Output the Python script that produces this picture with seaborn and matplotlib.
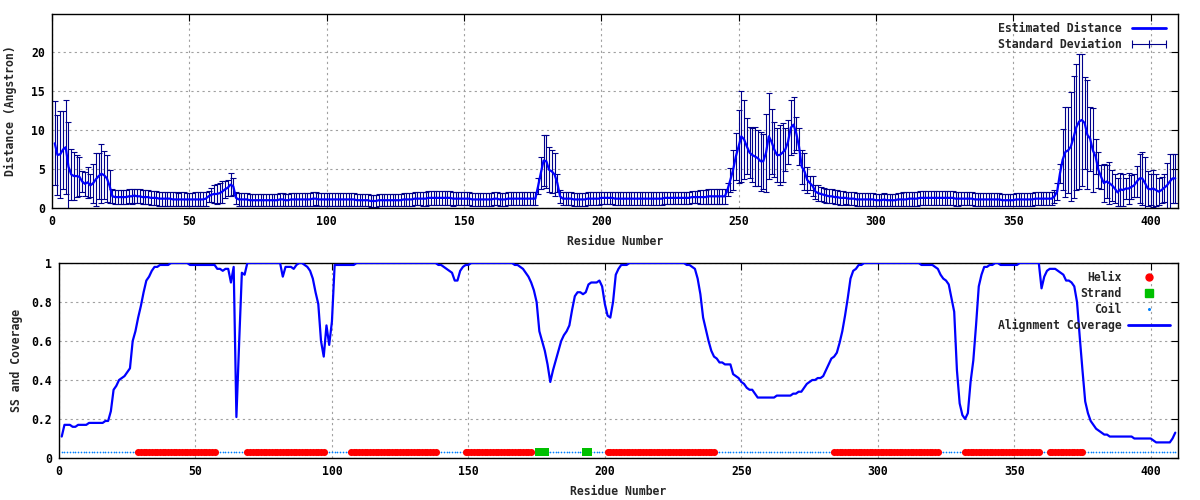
import numpy as np
import pandas as pd
import seaborn as sns
import matplotlib.pyplot as plt
from matplotlib.lines import Line2D

# residue index 1..409
residue = np.arange(1, 410)

# estimated distance (Angstrom), one value per residue
distance = [
    8.3, 6.8, 6.9, 7.5, 7.8, 5.3, 4.3, 4.1, 4.1, 4.0,
    3.4, 3.1, 3.3, 2.9, 3.2, 3.7, 4.1, 4.4, 4.2, 3.8,
    2.8, 1.5, 1.4, 1.4, 1.4, 1.4, 1.4, 1.5, 1.5, 1.6,
    1.5, 1.5, 1.4, 1.4, 1.4, 1.3, 1.3, 1.3, 1.2, 1.2,
    1.2, 1.2, 1.2, 1.1, 1.1, 1.1, 1.1, 1.1, 1.1, 1.1,
    1.1, 1.1, 1.1, 1.1, 1.1, 1.2, 1.5, 1.7, 1.8, 1.8,
    1.9, 2.1, 2.4, 2.6, 3.0, 2.8, 1.3, 1.1, 1.1, 1.1,
    1.1, 1.0, 1.0, 1.0, 1.0, 1.0, 1.0, 1.0, 1.0, 1.0,
    1.0, 1.0, 1.1, 1.1, 1.0, 1.0, 1.1, 1.1, 1.1, 1.1,
    1.1, 1.1, 1.1, 1.1, 1.2, 1.2, 1.1, 1.1, 1.1, 1.1,
    1.1, 1.1, 1.1, 1.1, 1.1, 1.1, 1.1, 1.1, 1.1, 1.1,
    1.0, 1.0, 1.0, 1.0, 1.0, 0.9, 0.9, 0.9, 1.0, 1.0,
    1.0, 1.0, 1.0, 1.0, 1.0, 1.0, 1.0, 1.1, 1.1, 1.1,
    1.1, 1.2, 1.2, 1.2, 1.2, 1.2, 1.3, 1.3, 1.3, 1.3,
    1.3, 1.3, 1.3, 1.3, 1.3, 1.2, 1.2, 1.2, 1.2, 1.2,
    1.2, 1.2, 1.1, 1.1, 1.1, 1.1, 1.1, 1.1, 1.1, 1.1,
    1.2, 1.2, 1.1, 1.1, 1.1, 1.2, 1.2, 1.2, 1.2, 1.2,
    1.2, 1.2, 1.2, 1.2, 1.2, 1.2, 2.8, 4.5, 6.1, 6.0,
    4.9, 4.7, 4.3, 3.2, 1.5, 1.2, 1.2, 1.2, 1.2, 1.1,
    1.1, 1.1, 1.1, 1.1, 1.2, 1.2, 1.2, 1.2, 1.2, 1.3,
    1.3, 1.3, 1.3, 1.3, 1.2, 1.2, 1.2, 1.2, 1.2, 1.2,
    1.2, 1.2, 1.2, 1.2, 1.2, 1.2, 1.2, 1.2, 1.2, 1.2,
    1.2, 1.2, 1.3, 1.3, 1.3, 1.3, 1.3, 1.3, 1.3, 1.3,
    1.3, 1.3, 1.4, 1.4, 1.4, 1.4, 1.4, 1.4, 1.5, 1.5,
    1.5, 1.5, 1.5, 1.5, 1.5, 2.4, 3.6, 4.9, 6.6, 7.9,
    9.2, 8.8, 7.9, 7.1, 6.8, 6.6, 6.4, 6.0, 6.0, 7.1,
    9.2, 8.5, 7.5, 6.8, 6.8, 7.1, 7.5, 8.5, 10.3, 10.7,
    9.6, 7.9, 5.3, 4.7, 3.6, 3.2, 2.8, 2.1, 1.9, 1.8,
    1.7, 1.6, 1.5, 1.5, 1.4, 1.4, 1.3, 1.3, 1.3, 1.2,
    1.2, 1.2, 1.1, 1.1, 1.1, 1.1, 1.1, 1.1, 1.1, 1.0,
    1.0, 1.0, 1.1, 1.0, 1.0, 1.0, 1.0, 1.1, 1.1, 1.1,
    1.1, 1.2, 1.2, 1.2, 1.2, 1.3, 1.3, 1.3, 1.3, 1.3,
    1.3, 1.3, 1.3, 1.3, 1.3, 1.3, 1.3, 1.3, 1.2, 1.2,
    1.2, 1.2, 1.2, 1.2, 1.2, 1.1, 1.1, 1.1, 1.1, 1.1,
    1.1, 1.1, 1.1, 1.1, 1.1, 1.0, 1.0, 1.0, 1.0, 1.0,
    1.1, 1.1, 1.1, 1.1, 1.1, 1.1, 1.1, 1.2, 1.2, 1.2,
    1.2, 1.2, 1.2, 1.2, 1.5, 2.1, 4.4, 6.2, 7.2, 7.4,
    7.9, 9.1, 10.4, 11.1, 11.3, 10.9, 9.4, 8.9, 7.4, 6.6,
    4.9, 4.0, 3.2, 3.4, 3.2, 2.9, 2.5, 2.0, 2.4, 2.3,
    2.5, 2.5, 2.7, 2.9, 3.4, 3.8, 3.8, 3.2, 2.5, 2.4,
    2.5, 2.3, 2.1, 2.3, 2.6, 2.9, 3.4, 3.8, 3.8,
]

# standard deviation of the distance
std_dev = [
    5.4, 5.1, 5.6, 5.0, 6.0, 5.8, 3.3, 3.1, 2.7, 2.5,
    1.4, 1.5, 2.0, 1.5, 2.5, 3.4, 3.0, 3.8, 3.1, 3.0,
    2.1, 0.9, 0.9, 0.9, 0.9, 0.9, 0.9, 0.9, 1.0, 0.9,
    0.9, 0.9, 0.9, 0.9, 0.9, 0.9, 0.9, 0.9, 0.9, 0.9,
    0.9, 0.9, 0.9, 0.9, 0.9, 0.8, 0.9, 0.9, 0.8, 0.8,
    0.8, 0.9, 0.9, 0.9, 0.9, 0.9, 0.7, 0.9, 1.1, 1.3,
    1.3, 1.4, 1.1, 1.0, 1.5, 1.1, 0.8, 0.8, 0.8, 0.8,
    0.8, 0.8, 0.8, 0.8, 0.8, 0.8, 0.8, 0.8, 0.8, 0.8,
    0.8, 0.8, 0.8, 0.8, 0.8, 0.8, 0.8, 0.8, 0.8, 0.8,
    0.8, 0.8, 0.8, 0.8, 0.9, 0.8, 0.8, 0.8, 0.8, 0.8,
    0.8, 0.8, 0.8, 0.8, 0.8, 0.8, 0.8, 0.8, 0.8, 0.8,
    0.8, 0.8, 0.8, 0.8, 0.8, 0.8, 0.8, 0.8, 0.8, 0.8,
    0.8, 0.8, 0.8, 0.8, 0.8, 0.8, 0.8, 0.8, 0.8, 0.8,
    0.8, 0.8, 0.8, 0.8, 0.9, 0.9, 0.9, 0.9, 0.9, 0.9,
    0.9, 0.9, 0.9, 0.9, 0.9, 0.9, 0.8, 0.8, 0.8, 0.8,
    0.8, 0.8, 0.8, 0.8, 0.8, 0.8, 0.8, 0.8, 0.8, 0.8,
    0.8, 0.8, 0.8, 0.8, 0.8, 0.8, 0.8, 0.8, 0.8, 0.8,
    0.8, 0.8, 0.8, 0.8, 0.8, 0.8, 1.0, 2.0, 3.3, 3.4,
    2.9, 2.8, 2.8, 1.2, 0.8, 0.8, 0.8, 0.8, 0.8, 0.8,
    0.8, 0.8, 0.8, 0.8, 0.8, 0.8, 0.8, 0.8, 0.8, 0.8,
    0.8, 0.8, 0.8, 0.8, 0.8, 0.8, 0.8, 0.8, 0.8, 0.8,
    0.8, 0.8, 0.8, 0.8, 0.8, 0.8, 0.8, 0.8, 0.8, 0.8,
    0.8, 0.8, 0.8, 0.8, 0.8, 0.8, 0.8, 0.8, 0.8, 0.8,
    0.8, 0.8, 0.8, 0.8, 0.8, 0.9, 0.9, 0.9, 1.0, 1.0,
    1.0, 1.0, 1.0, 1.0, 1.0, 0.8, 1.5, 2.6, 3.0, 4.7,
    5.8, 5.1, 3.6, 3.3, 3.5, 3.8, 3.6, 3.8, 3.5, 5.0,
    5.5, 4.2, 3.5, 3.5, 3.9, 3.8, 2.8, 2.8, 3.5, 3.6,
    2.1, 2.4, 2.2, 2.4, 1.7, 0.9, 1.3, 0.9, 1.0, 0.9,
    0.9, 0.9, 0.9, 0.9, 0.9, 0.9, 0.9, 0.9, 0.8, 0.8,
    0.8, 0.8, 0.8, 0.8, 0.8, 0.8, 0.8, 0.8, 0.8, 0.8,
    0.8, 0.8, 0.8, 0.8, 0.8, 0.8, 0.8, 0.8, 0.8, 0.9,
    0.9, 0.9, 0.9, 0.9, 0.9, 0.9, 0.9, 0.9, 0.9, 0.9,
    0.9, 0.9, 0.9, 0.9, 0.9, 0.9, 0.9, 0.9, 0.9, 0.9,
    0.8, 0.8, 0.8, 0.8, 0.8, 0.8, 0.8, 0.8, 0.8, 0.8,
    0.8, 0.8, 0.8, 0.8, 0.8, 0.8, 0.8, 0.8, 0.8, 0.8,
    0.8, 0.8, 0.8, 0.8, 0.8, 0.8, 0.8, 0.8, 0.8, 0.8,
    0.8, 0.8, 0.8, 0.8, 0.8, 1.1, 1.2, 3.9, 5.8, 5.5,
    7.0, 7.8, 8.1, 8.7, 8.5, 5.9, 7.0, 4.1, 5.4, 2.3,
    2.3, 1.5, 2.4, 2.1, 2.7, 2.0, 1.9, 1.8, 2.1, 2.1,
    1.3, 2.0, 1.5, 1.5, 2.0, 3.1, 3.4, 3.4, 2.2, 2.0,
    2.4, 2.1, 1.7, 1.7, 1.8, 2.9, 3.5, 3.1, 3.1,
]

# alignment coverage, one value per residue
coverage = [
    0.11, 0.17, 0.17, 0.17, 0.16, 0.16, 0.17, 0.17, 0.17, 0.17,
    0.18, 0.18, 0.18, 0.18, 0.18, 0.18, 0.19, 0.19, 0.24, 0.35,
    0.37, 0.40, 0.41, 0.42, 0.44, 0.46, 0.60, 0.65, 0.72, 0.78,
    0.85, 0.91, 0.93, 0.96, 0.98, 0.98, 0.99, 0.99, 0.99, 0.99,
    1.00, 1.00, 1.00, 1.00, 1.00, 1.00, 1.00, 0.99, 0.99, 0.99,
    0.99, 0.99, 0.99, 0.99, 0.99, 0.99, 0.99, 0.97, 0.97, 0.96,
    0.97, 0.97, 0.90, 0.98, 0.21, 0.59, 0.95, 0.94, 1.00, 1.00,
    1.00, 1.00, 1.00, 1.00, 1.00, 1.00, 1.00, 1.00, 1.00, 1.00,
    1.00, 0.93, 0.98, 0.98, 0.98, 0.97, 0.99, 1.00, 1.00, 0.99,
    0.98, 0.96, 0.92, 0.85, 0.79, 0.60, 0.52, 0.68, 0.58, 0.70,
    0.99, 0.99, 0.99, 0.99, 0.99, 0.99, 0.99, 0.99, 1.00, 1.00,
    1.00, 1.00, 1.00, 1.00, 1.00, 1.00, 1.00, 1.00, 1.00, 1.00,
    1.00, 1.00, 1.00, 1.00, 1.00, 1.00, 1.00, 1.00, 1.00, 1.00,
    1.00, 1.00, 1.00, 1.00, 1.00, 1.00, 1.00, 1.00, 0.99, 0.99,
    0.98, 0.97, 0.96, 0.95, 0.91, 0.91, 0.96, 0.98, 0.99, 0.99,
    1.00, 1.00, 1.00, 1.00, 1.00, 1.00, 1.00, 1.00, 1.00, 1.00,
    1.00, 1.00, 1.00, 1.00, 1.00, 1.00, 0.99, 0.99, 0.98, 0.97,
    0.95, 0.93, 0.90, 0.86, 0.80, 0.65, 0.60, 0.55, 0.48, 0.39,
    0.45, 0.50, 0.55, 0.60, 0.63, 0.65, 0.68, 0.76, 0.83, 0.85,
    0.85, 0.84, 0.85, 0.89, 0.90, 0.90, 0.90, 0.91, 0.88, 0.79,
    0.73, 0.72, 0.80, 0.94, 0.97, 0.99, 0.99, 0.99, 1.00, 1.00,
    1.00, 1.00, 1.00, 1.00, 1.00, 1.00, 1.00, 1.00, 1.00, 1.00,
    1.00, 1.00, 1.00, 1.00, 1.00, 1.00, 1.00, 1.00, 1.00, 0.99,
    0.99, 0.98, 0.97, 0.92, 0.84, 0.72, 0.66, 0.60, 0.55, 0.52,
    0.51, 0.49, 0.49, 0.48, 0.48, 0.48, 0.43, 0.42, 0.41, 0.39,
    0.38, 0.36, 0.35, 0.35, 0.33, 0.31, 0.31, 0.31, 0.31, 0.31,
    0.31, 0.31, 0.32, 0.32, 0.32, 0.32, 0.32, 0.32, 0.33, 0.33,
    0.34, 0.34, 0.36, 0.38, 0.39, 0.40, 0.40, 0.41, 0.41, 0.42,
    0.45, 0.48, 0.51, 0.52, 0.54, 0.59, 0.65, 0.73, 0.82, 0.92,
    0.96, 0.97, 0.99, 0.99, 1.00, 1.00, 1.00, 1.00, 1.00, 1.00,
    1.00, 1.00, 1.00, 1.00, 1.00, 1.00, 1.00, 1.00, 1.00, 1.00,
    1.00, 1.00, 1.00, 1.00, 1.00, 0.99, 0.99, 0.99, 0.99, 0.99,
    0.98, 0.97, 0.94, 0.92, 0.91, 0.89, 0.82, 0.75, 0.45, 0.28,
    0.22, 0.20, 0.23, 0.39, 0.50, 0.68, 0.88, 0.94, 0.98, 0.98,
    0.99, 0.99, 1.00, 1.00, 0.99, 0.99, 0.99, 0.99, 0.99, 0.99,
    0.99, 1.00, 1.00, 1.00, 1.00, 1.00, 1.00, 1.00, 1.00, 0.87,
    0.93, 0.96, 0.97, 0.97, 0.97, 0.96, 0.95, 0.94, 0.91, 0.91,
    0.90, 0.88, 0.80, 0.62, 0.45, 0.29, 0.23, 0.19, 0.17, 0.15,
    0.14, 0.13, 0.12, 0.12, 0.11, 0.11, 0.11, 0.11, 0.11, 0.11,
    0.11, 0.11, 0.11, 0.10, 0.10, 0.10, 0.10, 0.10, 0.10, 0.10,
    0.09, 0.08, 0.08, 0.08, 0.08, 0.08, 0.08, 0.10, 0.13,
]

# secondary structure segments (first, last residue)
helix_segments = [(29, 57), (69, 97), (107, 138), (149, 173),
                  (201, 240), (284, 322), (332, 359), (363, 375)]
strand_segments = [(176, 178), (193, 194)]

assert len(distance) == len(residue) == len(std_dev) == len(coverage)

ss = np.array(["Coil"] * len(residue), dtype=object)
for a, b in helix_segments:
    ss[(residue >= a) & (residue <= b)] = "Helix"
for a, b in strand_segments:
    ss[(residue >= a) & (residue <= b)] = "Strand"

df = pd.DataFrame({"residue": residue, "distance": distance,
                   "std": std_dev, "coverage": coverage, "ss": ss})
SS_LEVEL = 0.03
df["ss_y"] = SS_LEVEL

sns.set_style("white")
plt.rcParams["font.family"] = ["DejaVu Sans Mono"]
plt.rcParams["font.weight"] = "bold"
FS = 8.3

fig = plt.figure(figsize=(12, 5), dpi=100)
ax1 = fig.add_axes([52 / 1200, 1 - 208 / 500, (1178 - 52) / 1200, (208 - 14) / 500])
ax2 = fig.add_axes([59 / 1200, 1 - 458 / 500, (1178 - 59) / 1200, (458 - 263) / 500])

grid_kw = dict(color="#a0a0a0", linestyle=(0, (2, 3)), linewidth=0.8)

def style_axes(ax):
    ax.grid(True, **grid_kw)
    ax.set_axisbelow(True)
    for sp in ax.spines.values():
        sp.set_color("black")
        sp.set_linewidth(1.0)
        sp.set_visible(True)
    ax.tick_params(direction="in", length=5, width=0.8, top=True, right=True,
                   labelsize=FS, pad=5, colors="black")
    ax.set_xticks(range(0, 401, 50))
    ax.set_xlim(0, 410)
    ax.set_xlabel("Residue Number", fontsize=FS, fontweight="bold", labelpad=5)

# ---- top: estimated distance with standard deviation ----
ax1.errorbar(df["residue"], df["distance"], yerr=df["std"], fmt="none",
             ecolor="#00008b", elinewidth=0.8, capsize=2.3, capthick=0.8, zorder=2)
sns.lineplot(data=df, x="residue", y="distance", ax=ax1, color="#0000ff",
             linewidth=1.6, zorder=3)
style_axes(ax1)
ax1.set_ylim(0, 24.9)
ax1.set_yticks(range(0, 21, 5))
ax1.set_ylabel("Distance (Angstron)", fontsize=FS, fontweight="bold", labelpad=10)

h_top = [Line2D([], [], color="#0000ff", lw=2),
         Line2D([], [], color="#00008b", lw=0.8, marker="|", markersize=6,
                markeredgewidth=0.8)]
ax1.legend(h_top, ["Estimated Distance", "Standard Deviation"], loc="upper right",
           frameon=False, markerfirst=False, numpoints=3, fontsize=FS,
           handlelength=3.6, handletextpad=0.6, labelspacing=0.25,
           borderaxespad=0.3)

# ---- bottom: secondary structure and alignment coverage ----
sns.scatterplot(data=df[df["ss"] == "Coil"], x="residue", y="ss_y", ax=ax2,
                color="#0080ff", marker="o", s=1.5, linewidth=0, zorder=2)
sns.scatterplot(data=df[df["ss"] == "Helix"], x="residue", y="ss_y", ax=ax2,
                color="#ff0000", marker="o", s=26, linewidth=0, zorder=3)
sns.scatterplot(data=df[df["ss"] == "Strand"], x="residue", y="ss_y", ax=ax2,
                color="#00c000", marker="s", s=26, linewidth=0, zorder=3)
sns.lineplot(data=df, x="residue", y="coverage", ax=ax2, color="#0000ff",
             linewidth=1.6, zorder=4)
style_axes(ax2)
ax2.set_ylim(0, 1)
ax2.set_yticks([0, 0.2, 0.4, 0.6, 0.8, 1.0])
ax2.set_yticklabels(["0", "0.2", "0.4", "0.6", "0.8", "1"])
ax2.set_ylabel("SS and Coverage", fontsize=FS, fontweight="bold", labelpad=6)

h_bot = [Line2D([], [], color="#ff0000", lw=0, marker="o", markersize=5),
         Line2D([], [], color="#00c000", lw=0, marker="s", markersize=5.5),
         Line2D([], [], color="#0080ff", lw=0, marker="o", markersize=1.2),
         Line2D([], [], color="#0000ff", lw=2)]
ax2.legend(h_bot, ["Helix", "Strand", "Coil", "Alignment Coverage"],
           loc="upper right", frameon=False, markerfirst=False, numpoints=1,
           fontsize=FS, handlelength=3.6, handletextpad=0.6, labelspacing=0.25,
           borderaxespad=0.3)

fig.savefig("out.png", dpi=100)
